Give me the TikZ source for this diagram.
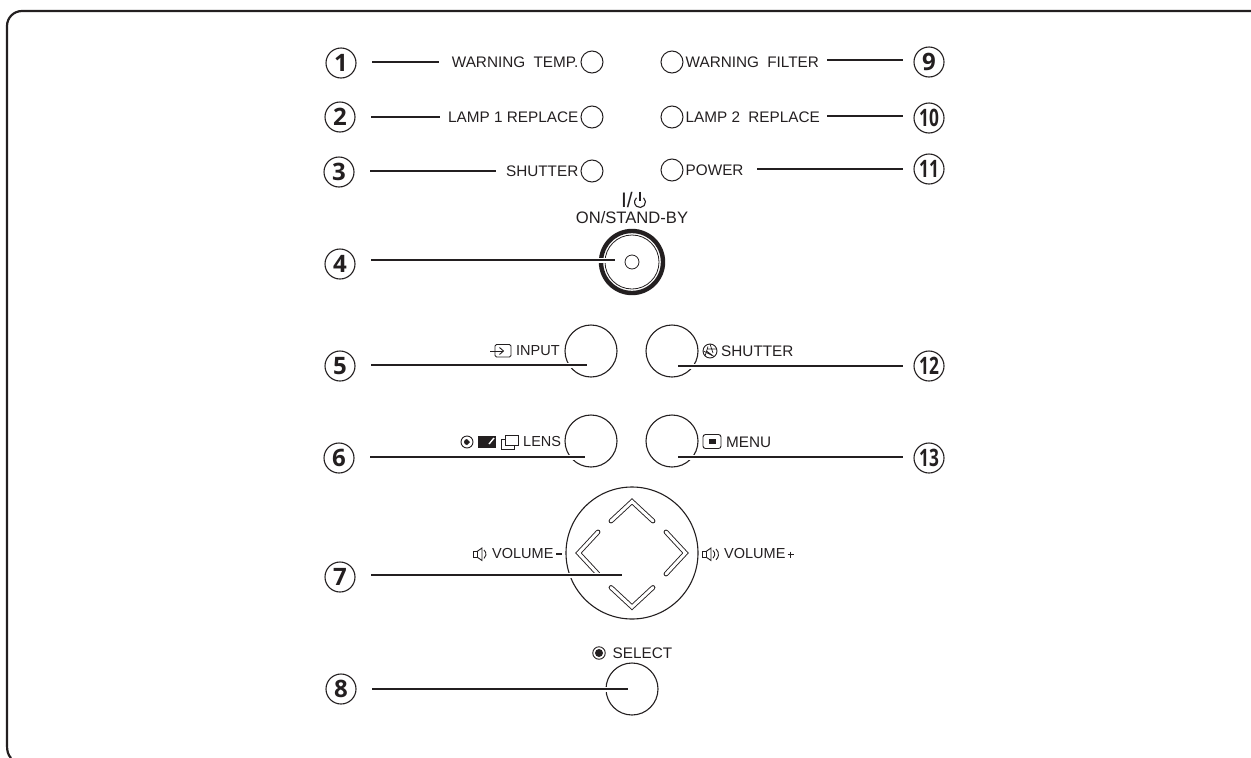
\documentclass[tikz,border=0pt]{standalone}
\usepackage{fontspec}
\usepackage{graphicx}
\setmainfont{Liberation Sans}
\newfontfamily\numfont{Open Sans}
\usetikzlibrary{
    positioning
}
\definecolor{inkdark}{HTML}{231F20}
\tikzset{
    numcircle/.style={
        circle, draw=inkdark, line width=1.1pt, minimum size=30pt, inner sep=0pt,
        text=inkdark, font=\numfont\bfseries\fontsize{24}{24}\selectfont
    },
    panellabel/.style={
        inner sep=0pt, text=inkdark, font=\fontsize{15.3}{16}\selectfont
    },
    smalllabel/.style={
        panellabel, font=\fontsize{14.5}{16}\selectfont
    },
    lamp/.style={
        circle, draw=inkdark, line width=1pt, minimum size=22pt, inner sep=0pt
    },
    keybutton/.style={
        circle, draw=inkdark, line width=1.1pt, minimum size=52pt, inner sep=0pt
    },
    leader/.style={
        draw=inkdark, line width=2pt,
        preaction={draw=white, line width=5pt}
    },
    leaderleft/.style={
        leader, shorten <=15.5pt
    },
    leaderright/.style={
        leader, shorten <=10.5pt
    },
    chevron/.style={
        draw=inkdark, line width=0.9pt, double=white, double distance=3pt,
        line cap=round, line join=miter
    },
    icon/.style={
        draw=inkdark, line width=0.9pt
    }
}
\newcommand{\narrownum}[1]{\scalebox{0.72}[1]{#1}}

\begin{document}
\begin{tikzpicture}[x=1pt, y=-1pt]

    \useasboundingbox (0,0) rectangle (1251,758);

    % Marco
    \draw[inkdark, line width=2.2pt, rounded corners=15pt]
        (1251,11) -- (7,11) -- (7,745);
    \draw[inkdark, line width=2.2pt]
        (7,745) .. controls (7,751) and (8,755) .. (11,758);

    % Numeros, izquierda
    \node[numcircle] (n1) at (341,63)  {1};
    \node[numcircle] (n2) at (340,117) {2};
    \node[numcircle] (n3) at (339,172) {3};
    \node[numcircle] (n4) at (340,264) {4};
    \node[numcircle] (n5) at (340,366) {5};
    \node[numcircle] (n6) at (339,458) {6};
    \node[numcircle] (n7) at (340,577) {7};
    \node[numcircle] (n8) at (341,689) {8};

    % Numeros, derecha
    \node[numcircle] (n9)  at (929,62)  {9};
    \node[numcircle] (n10) at (929,118) {\narrownum{10}};
    \node[numcircle] (n11) at (929,169) {\narrownum{11}};
    \node[numcircle] (n12) at (929,366) {\narrownum{12}};
    \node[numcircle] (n13) at (929,458) {\narrownum{13}};

    % Indicadores
    \node[lamp] (warntemp)   at (592,62)  {};
    \node[lamp] (lampone)    at (592,117) {};
    \node[lamp] (shutterled) at (592,171) {};
    \node[lamp] (warnfilter) at (672,62)  {};
    \node[lamp] (lamptwo)    at (672,117) {};
    \node[lamp] (powerled)   at (672,170) {};

    \node[panellabel, left=2pt of warntemp]   (tempname)    {WARNING\hspace{4pt} TEMP.};
    \node[panellabel, left=2pt of lampone]    (lamponename) {LAMP 1 REPLACE};
    \node[panellabel, left=2pt of shutterled] (shuttername) {SHUTTER};
    \node[panellabel, right=2pt of warnfilter] (filtername) {WARNING\hspace{4pt} FILTER};
    \node[panellabel, right=2pt of lamptwo]   (lamptwoname) {LAMP 2\hspace{4pt} REPLACE};
    \node[panellabel, right=2pt of powerled]  (powername)   {POWER};

    % Boton de encendido
    \node[circle, draw=inkdark, line width=4.4pt, minimum size=62pt, inner sep=0pt]
        (onkey) at (632,262) {};
    \node[circle, draw=inkdark, line width=0.8pt, minimum size=54pt, inner sep=0pt]
        (onring) at (632,262) {};
    \node[circle, draw=inkdark, line width=0.8pt, minimum size=14pt, inner sep=0pt]
        (onspot) at (632,262) {};
    \node[panellabel, font=\fontsize{16.6}{17}\selectfont] (onname) at (632,218) {ON/STAND-BY};
    \node[panellabel, font=\fontsize{21}{22}\selectfont, anchor=east] (onbar) at (633,200) {I/};
    \draw[icon, line width=1.1pt] (640,202) ++(-50:5.5) arc[start angle=-50, end angle=230, radius=5.5];
    \draw[icon, line width=1.1pt] (640,191.5) -- (640,201);

    % Botones
    \node[keybutton] (inputkey)   at (591,351) {};
    \node[keybutton] (lenskey)    at (591,441) {};
    \node[keybutton] (shutterkey) at (672,351) {};
    \node[keybutton] (menukey)    at (672,441) {};

    \node[smalllabel, anchor=west] (inputname)    at (516,351) {INPUT};
    \node[smalllabel, anchor=west] (lensname)     at (523,442) {LENS};
    \node[panellabel, anchor=west] (shutterkname) at (721,351) {SHUTTER};
    \node[panellabel, anchor=west] (menuname)     at (726,442) {MENU};

    % Iconos
    \draw[icon, rounded corners=1.5pt] (495,344.5) rectangle (511,357);
    \draw[icon] (490,351) -- (503,351);
    \draw[icon] (499.5,347.5) -- (503.5,351) -- (499.5,354.5);

    \node[circle, icon, minimum size=12pt, inner sep=0pt] (lensicon) at (467,442) {};
    \fill[inkdark] (467,439) arc[start angle=-90, end angle=-270, radius=3] -- (470,442) -- cycle;
    \fill[inkdark] (478,436) rectangle (496,448);
    \draw[white, line width=1.4pt] (489,444) -- (494,438);
    \draw[icon] (501,439) rectangle (514,449);
    \draw[icon, fill=white] (505,435) rectangle (518,445);

    \node[circle, icon, minimum size=14pt, inner sep=0pt] (shuttericon) at (710,351) {};
    \draw[icon, line width=0.7pt] (710,344) -- (713,353) (716.5,349) -- (707,349)
        (714,356.5) -- (706.5,351) (705,356) -- (708,346.5) (703.5,351) -- (712,355.5);

    \draw[icon, rounded corners=2.5pt] (703,434.5) rectangle (721,448.5);
    \fill[inkdark] (708.5,439) rectangle (715.5,444);

    % Selector
    \node[circle, draw=inkdark, line width=1.1pt, minimum size=132pt, inner sep=0pt]
        (volumekey) at (632,553) {};
    \draw[chevron] (611,521) -- (632,501.5) -- (653,521);
    \draw[chevron] (611,587.5) -- (632,607) -- (653,587.5);
    \draw[chevron] (598,532) -- (578.5,553) -- (598,574);
    \draw[chevron] (666,532) -- (685.5,553) -- (666,574);

    \node[smalllabel, anchor=west] (volminus) at (492,554) {VOLUME};
    \node[smalllabel, anchor=west] (volplus)  at (724,554) {VOLUME};
    \fill[inkdark] (555.5,552.5) rectangle (562,554.5);
    \draw[inkdark, line width=0.9pt] (787.5,554.5) -- (793.5,554.5) (790.5,551.5) -- (790.5,557.5);

    % Altavoces
    \draw[icon] (473.5,551.5) rectangle (477,557);
    \draw[icon] (477,551.5) -- (482,548) -- (482,560.5) -- (477,557);
    \draw[icon] (484,550) arc[start angle=50, end angle=-50, radius=5.5pt];
    \draw[icon] (702.5,551.5) rectangle (706,557);
    \draw[icon] (706,551.5) -- (711,548) -- (711,560.5) -- (706,557);
    \draw[icon] (713,550.5) arc[start angle=50, end angle=-50, radius=5pt];
    \draw[icon] (716,549) arc[start angle=50, end angle=-50, radius=7pt];

    % Seleccion
    \node[keybutton] (selectkey) at (632,689) {};
    \node[panellabel] (selectname) at (642.5,653) {SELECT};
    \node[circle, icon, minimum size=12.5pt, inner sep=0pt] (selectring) at (599,653) {};
    \fill[inkdark] (selectring.center) circle[radius=4];

    % Extremos de las lineas
    \coordinate (e1)  at (439,62);
    \coordinate (e2)  at (440,117);
    \coordinate (e3)  at (496,171);
    \coordinate (e4)  at (615,260);
    \coordinate (e5)  at (587,365);
    \coordinate (e6)  at (585,457);
    \coordinate (e7)  at (622,575);
    \coordinate (e8)  at (628,689);
    \coordinate (e9)  at (827,60);
    \coordinate (e10) at (827,116);
    \coordinate (e11) at (757,169);
    \coordinate (e12) at (678,366);
    \coordinate (e13) at (678,457);

    % Lineas
    \path[leaderleft] (n1.east |- e1) -- (e1);
    \path[leaderleft] (n2.east |- e2) -- (e2);
    \path[leaderleft] (n3.east |- e3) -- (e3);
    \path[leaderleft] (n4.east |- e4) -- (e4);
    \path[leaderleft] (n5.east |- e5) -- (e5);
    \path[leaderleft] (n6.east |- e6) -- (e6);
    \path[leaderleft] (n7.east |- e7) -- (e7);
    \path[leaderleft] (n8.east |- e8) -- (e8);
    \path[leaderright] (n9.west |- e9) -- (e9);
    \path[leaderright] (n10.west |- e10) -- (e10);
    \path[leaderright] (n11.west |- e11) -- (e11);
    \path[leaderright] (n12.west |- e12) -- (e12);
    \path[leaderright] (n13.west |- e13) -- (e13);

\end{tikzpicture}
\end{document}
